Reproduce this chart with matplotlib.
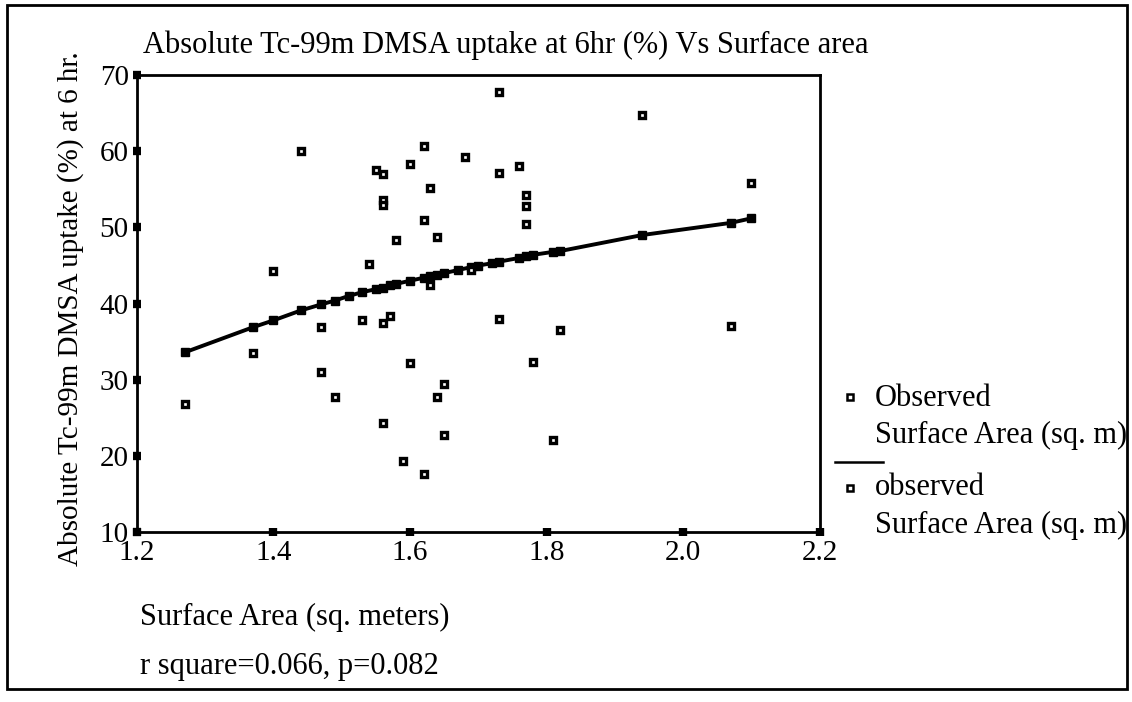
import matplotlib
matplotlib.use("Agg")
import matplotlib.pyplot as plt
from matplotlib.lines import Line2D
from matplotlib.patches import Rectangle

# observed values
surface_area = [1.27, 1.37, 1.40, 1.44, 1.47, 1.47, 1.49, 1.53, 1.54, 1.55,
                1.56, 1.56, 1.56, 1.56, 1.56, 1.57, 1.58, 1.59, 1.60, 1.60,
                1.62, 1.62, 1.62, 1.63, 1.63, 1.64, 1.64, 1.65, 1.65, 1.68,
                1.69, 1.73, 1.73, 1.73, 1.76, 1.77, 1.77, 1.77, 1.78, 1.81,
                1.82, 1.94, 2.07, 2.10]
uptake = [26.8, 33.5, 44.3, 60.0, 36.9, 31.0, 27.7, 37.8, 45.2, 57.6,
          57.0, 53.6, 53.0, 37.5, 24.3, 38.4, 48.4, 19.3, 58.3, 32.2,
          60.7, 51.0, 17.6, 55.2, 42.5, 48.7, 27.8, 29.5, 22.8, 59.2,
          44.4, 67.8, 57.1, 38.0, 58.1, 54.2, 52.8, 50.5, 32.4, 22.1,
          36.5, 64.7, 37.0, 55.8]

# fitted curve
fit_x = [1.27, 1.37, 1.40, 1.44, 1.47, 1.49, 1.51, 1.53, 1.55, 1.56,
         1.57, 1.58, 1.60, 1.62, 1.63, 1.64, 1.65, 1.67, 1.69, 1.70,
         1.72, 1.73, 1.76, 1.77, 1.78, 1.81, 1.82, 1.94, 2.07, 2.10]
fit_y = [33.6, 36.9, 37.8, 39.1, 39.9, 40.4, 41.0, 41.5, 41.9, 42.1,
         42.4, 42.6, 43.0, 43.4, 43.6, 43.8, 44.0, 44.4, 44.8, 45.0,
         45.3, 45.5, 46.0, 46.2, 46.4, 46.8, 46.9, 49.0, 50.6, 51.2]

xticks = [1.2, 1.4, 1.6, 1.8, 2.0, 2.2]
yticks = [10, 20, 30, 40, 50, 60, 70]

plt.rcParams['font.family'] = ['Liberation Serif', 'DejaVu Serif']
fs = 22

fig = plt.figure(figsize=(11.32, 7.02), dpi=100)
ax = fig.add_axes([0.121, 0.242, 0.603, 0.651])

ax.plot(fit_x, fit_y, color='black', lw=2.8, marker='s', ms=6,
        mfc='black', mec='black', zorder=2)
ax.plot(surface_area, uptake, ls='none', marker='s', ms=5,
        mfc='white', mec='black', mew=2.4, zorder=3)

ax.set_xlim(1.2, 2.2)
ax.set_ylim(10, 70)
ax.set_xticks(xticks)
ax.set_xticklabels([f"{t:.1f}" for t in xticks])
ax.set_yticks(yticks)
ax.tick_params(direction='inout', length=6, width=6, labelsize=21, pad=3)
for s in ax.spines.values():
    s.set_linewidth(2)

fig.text(0.126, 0.935, "Absolute Tc-99m DMSA uptake at 6hr (%) Vs Surface area",
         fontsize=fs, ha='left', va='center')
fig.text(0.062, 0.56, "Absolute Tc-99m DMSA uptake (%) at 6 hr.", fontsize=21,
         rotation=90, ha='center', va='center')
fig.text(0.124, 0.121, "Surface Area (sq. meters)", fontsize=fs,
         ha='left', va='center')
fig.text(0.124, 0.05, "r square=0.066, p=0.082", fontsize=fs,
         ha='left', va='center')

# legend
for my in [0.434, 0.305]:
    fig.add_artist(Line2D([0.751], [my], transform=fig.transFigure, ls='none',
                          marker='s', ms=4, mfc='white', mec='black', mew=1.8))
fig.add_artist(Line2D([0.738, 0.780], [0.342, 0.342], transform=fig.transFigure,
                      color='black', lw=1.8))
for ty, txt in [(0.433, "Observed"), (0.379, "Surface Area (sq. m)"),
                (0.305, "observed"), (0.252, "Surface Area (sq. m)")]:
    fig.text(0.773, ty, txt, fontsize=fs, ha='left', va='center')

fig.add_artist(Rectangle((0.006, 0.018), 0.99, 0.975, transform=fig.transFigure,
                         fill=False, lw=2, ec='black'))

fig.savefig("out.png", dpi=100)
